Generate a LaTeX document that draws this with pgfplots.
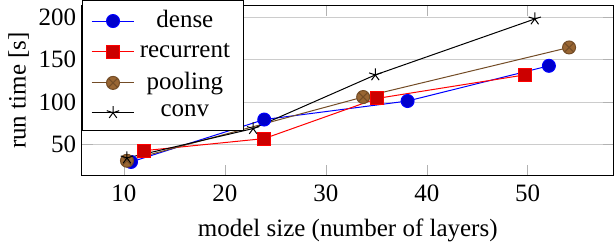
\documentclass[border=0pt]{standalone}
\usepackage{fontspec}
\setmainfont{Liberation Serif}
\usepackage{pgfplots}
\pgfplotsset{compat=1.18}
\begin{document}
\begin{tikzpicture}
\begin{axis}[
  scale only axis,
  width=212.8pt, height=68.4pt,
  xmin=5.84, xmax=58.5,
  ymin=13.1, ymax=214.1,
  xtick={10,20,30,40,50},
  ytick={50,100,150,200},
  ymajorgrids,
  grid style={gray!40},
  major tick style={gray!60},
  /pgf/number format/assume math mode=true,
  xlabel={model size (number of layers)},
  ylabel={run time [s]},
  ylabel shift=-3pt,
  yticklabel shift=-1.2pt,
  cycle list name=color,
  every axis plot/.append style={mark size=2.6pt},
  legend cell align=center,
  legend style={at={(0,1.03)}, anchor=north west, fill=white, draw=black, row sep=0.6pt, inner xsep=3.5pt},
]
\addplot coordinates {(10.7,29.6) (23.9,79.5) (38.1,101.3) (52.1,142.7)};
\addlegendentry{dense}
\addplot coordinates {(12.0,42.9) (23.9,57.1) (35.1,104.4) (49.7,132.0)};
\addlegendentry{recurrent}
\addplot coordinates {(10.3,31.0) (33.7,106.0) (54.1,164.3)};
\addlegendentry{pooling}
\addplot coordinates {(10.3,34.3) (22.8,68.9) (34.9,132.0) (50.7,197.8)};
\addlegendentry{conv}
\end{axis}
\end{tikzpicture}
\end{document}
